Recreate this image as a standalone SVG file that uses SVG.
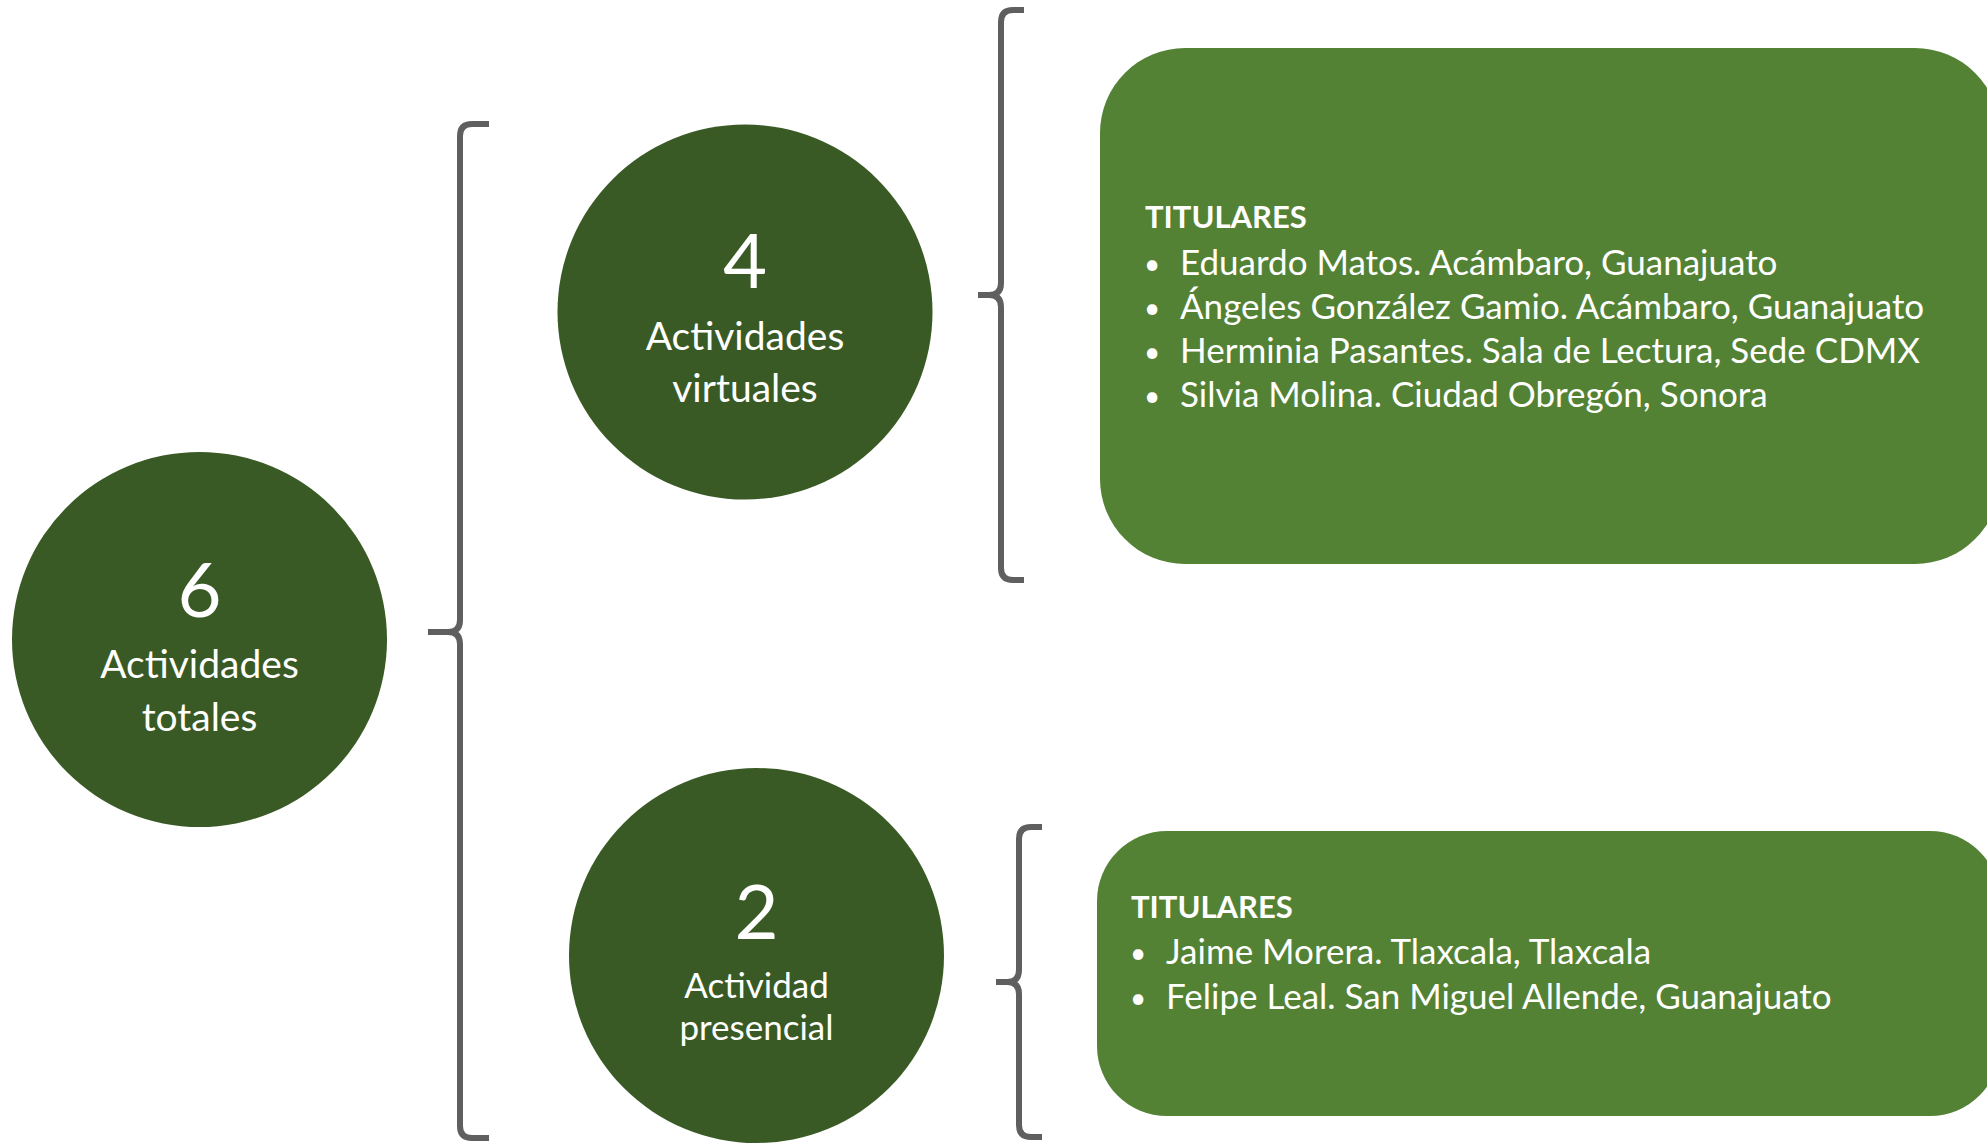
<svg xmlns="http://www.w3.org/2000/svg" width="1987" height="1143" viewBox="0 0 1987 1143">
<style>
.circ{fill:#3a5a25}
.box{fill:#548235}
.br{fill:none;stroke:#5f5f5f;stroke-width:6;stroke-linejoin:round}
text{font-family:Lato,"Liberation Sans",sans-serif;fill:#ffffff}
.num{font-size:76px;text-anchor:middle}
.lbl{font-size:39px;text-anchor:middle}
.lbl2{font-size:35px;text-anchor:middle}
.hd{font-size:31px;font-weight:bold}
.it{font-size:35px}
.bu{font-size:28px}
</style>
<rect width="1987" height="1143" fill="#ffffff"/>
<g id="connectors">
<path class="br" d="M489,124 H472 Q460,124 460,136 V620 Q460,632 448,632 H428 M448,632 Q460,632 460,644 V1126 Q460,1138 472,1138 H489"/>
<path class="br" d="M1024,10 H1013 Q1001,10 1001,22 V283 Q1001,295 989,295 H978 M989,295 Q1001,295 1001,307 V568 Q1001,580 1013,580 H1024"/>
<path class="br" d="M1042,827 H1031 Q1019,827 1019,839 V970 Q1019,982 1007,982 H996 M1007,982 Q1019,982 1019,994 V1125 Q1019,1137 1031,1137 H1042"/>
</g>
<g id="total">
<circle class="circ" cx="199.5" cy="639.5" r="187.5"/>
<text class="num" x="199.5" y="617">6</text>
<text class="lbl" x="199.5" y="678">Actividades</text>
<text class="lbl" x="199.5" y="731">totales</text>
</g>
<g id="virtuales">
<circle class="circ" cx="745" cy="312" r="187.5"/>
<text class="num" x="745" y="288">4</text>
<text class="lbl" x="745" y="350">Actividades</text>
<text class="lbl" x="745" y="402">virtuales</text>
</g>
<g id="presencial">
<circle class="circ" cx="756.5" cy="955.5" r="187.5"/>
<text class="num" x="756.5" y="939">2</text>
<text class="lbl2" x="756.5" y="998">Actividad</text>
<text class="lbl2" x="756.5" y="1040">presencial</text>
</g>
<g id="titulares-virtuales">
<rect class="box" x="1100" y="48" width="900" height="516" rx="85" ry="85"/>
<text class="hd" x="1145" y="228">TITULARES</text>
<g class="it">
<text class="bu" x="1144" y="274">•</text><text x="1180" y="275">Eduardo Matos. Acámbaro, Guanajuato</text>
<text class="bu" x="1144" y="318">•</text><text x="1180" y="319">Ángeles González Gamio. Acámbaro, Guanajuato</text>
<text class="bu" x="1144" y="362">•</text><text x="1180" y="363">Herminia Pasantes. Sala de Lectura, Sede CDMX</text>
<text class="bu" x="1144" y="406">•</text><text x="1180" y="407">Silvia Molina. Ciudad Obregón, Sonora</text>
</g>
</g>
<g id="titulares-presencial">
<rect class="box" x="1097" y="831" width="903" height="285" rx="70" ry="70"/>
<text class="hd" x="1131" y="918">TITULARES</text>
<g class="it">
<text class="bu" x="1130" y="963">•</text><text x="1166" y="964">Jaime Morera. Tlaxcala, Tlaxcala</text>
<text class="bu" x="1130" y="1008">•</text><text x="1166" y="1009">Felipe Leal. San Miguel Allende, Guanajuato</text>
</g>
</g>
</svg>
